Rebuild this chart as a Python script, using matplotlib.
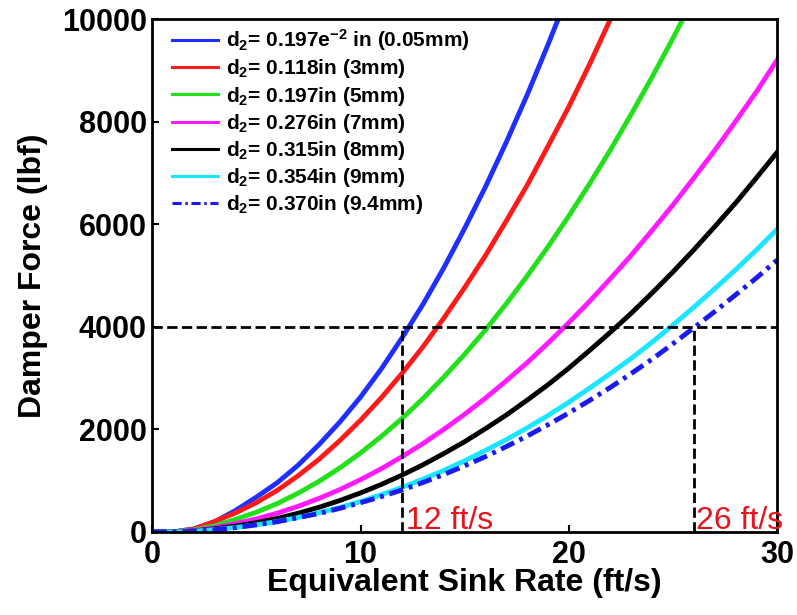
import numpy as np
import matplotlib
matplotlib.use("Agg")
import matplotlib.pyplot as plt

plt.rcParams.update({'font.family': ['Liberation Sans', 'DejaVu Sans'],
                     'mathtext.fontset': 'custom',
                     'mathtext.bf': 'Liberation Sans:bold',
                     'mathtext.rm': 'Liberation Sans:bold',
                     'mathtext.default': 'bf'})

# sink rate (ft/s)
v = list(range(0, 31))

# damper force (lbf)
f_005 = [0, 0, 60, 200, 420, 680, 960, 1300, 1700, 2140, 2630, 3180, 3790, 4440, 5150,
         5920, 6730, 7600, 8520, 9500, 10520]
f_3 = [0, 0, 55, 205, 372, 571, 812, 1095, 1415, 1779, 2179, 2617, 3096, 3611, 4170,
       4765, 5390, 6066, 6760, 7520, 8290, 9120, 10000, 10860]
f_5 = [0, 0, 40, 120, 246, 385, 554, 755, 985, 1247, 1540, 1863, 2215, 2603, 3020,
       3465, 3940, 4451, 4990, 5559, 6160, 6791, 7450, 8147, 8870, 9625, 10410]
f_7 = [0, 0, 30, 85, 163, 255, 367, 500, 653, 826, 1020, 1234, 1470, 1724, 2000,
       2295, 2610, 2948, 3300, 3682, 4080, 4498, 4940, 5396, 5880, 6375, 6900, 7436, 8000, 8578, 9200]
f_8 = [0, 0, 20, 63, 114, 181, 264, 364, 480, 612, 761, 927, 1110, 1310, 1530,
       1760, 2015, 2280, 2570, 2870, 3195, 3540, 3895, 4265, 4660, 5070, 5500, 5950, 6410, 6900, 7400]
f_9 = [0, 0, 15, 48, 87, 139, 204, 282, 373, 477, 594, 726, 870, 1029, 1200,
       1387, 1590, 1800, 2030, 2270, 2530, 2805, 3090, 3385, 3700, 4035, 4380, 4740, 5110, 5495, 5900]
f_94 = [0, 0, 12, 45, 85, 140, 200, 280, 360, 460, 570, 690, 820, 965, 1120,
        1290, 1470, 1665, 1870, 2090, 2320, 2565, 2820, 3090, 3370, 3670, 3980, 4295, 4620, 4950, 5300]

labels = [r'd$_2$= 0.197e$^{-2}$ in (0.05mm)',
          r'd$_2$= 0.118in (3mm)',
          r'd$_2$= 0.197in (5mm)',
          r'd$_2$= 0.276in (7mm)',
          r'd$_2$= 0.315in (8mm)',
          r'd$_2$= 0.354in (9mm)',
          r'd$_2$= 0.370in (9.4mm)']

series = [f_005, f_3, f_5, f_7, f_8, f_9, f_94]
colors = ['#1f2fff', '#ff1a1a', '#22e01a', '#ff1aff', 'black', '#1ae6ff', '#1a1aee']
styles = ['-', '-', '-', '-', '-', '-', (0, (3, 1.2, 0.8, 1.2))]

fig = plt.figure(figsize=(7.97, 6.15), dpi=100)
ax = fig.add_axes([0.191, 0.135, 0.784, 0.834])

for f, c, s, lab in zip(series, colors, styles, labels):
    ax.plot(v[:len(f)], f, color=c, lw=3.5, ls=s, label=lab)

# reference lines
ax.plot([0, 30], [4000, 4000], 'k--', lw=2)
ax.plot([12, 12], [0, 4000], 'k--', lw=2)
ax.plot([26, 26], [0, 4000], 'k--', lw=2)
ax.text(12.2, 60, '12 ft/s', color='#e8141c', fontsize=23)
ax.text(26.1, 60, '26 ft/s', color='#e8141c', fontsize=23, clip_on=False)

ax.set_xlim(0, 30)
ax.set_ylim(0, 10000)
ax.set_xticks([0, 10, 20, 30])
ax.set_yticks([0, 2000, 4000, 6000, 8000, 10000])
ax.tick_params(direction='in', labelsize=22, width=1.5, length=5)
ax.tick_params(axis='x', pad=6)
ax.tick_params(axis='y', pad=4)
for t in ax.get_xticklabels() + ax.get_yticklabels():
    t.set_fontweight('bold')
for s in ax.spines.values():
    s.set_linewidth(2)
ax.set_xlabel('Equivalent Sink Rate (ft/s)', fontsize=23, fontweight='bold', labelpad=-2)
ax.set_ylabel('Damper Force (lbf)', fontsize=23, fontweight='bold', labelpad=10)

leg = ax.legend(loc='upper left', bbox_to_anchor=(0.018, 1.0), frameon=False,
                prop={'size': 15, 'weight': 'bold'},
                handlelength=2.2, labelspacing=0.2, borderaxespad=0.1, handletextpad=0.4,
                borderpad=0.3)
for h in leg.get_lines():
    h.set_linewidth(2.2)

fig.savefig('out.png', dpi=100)
